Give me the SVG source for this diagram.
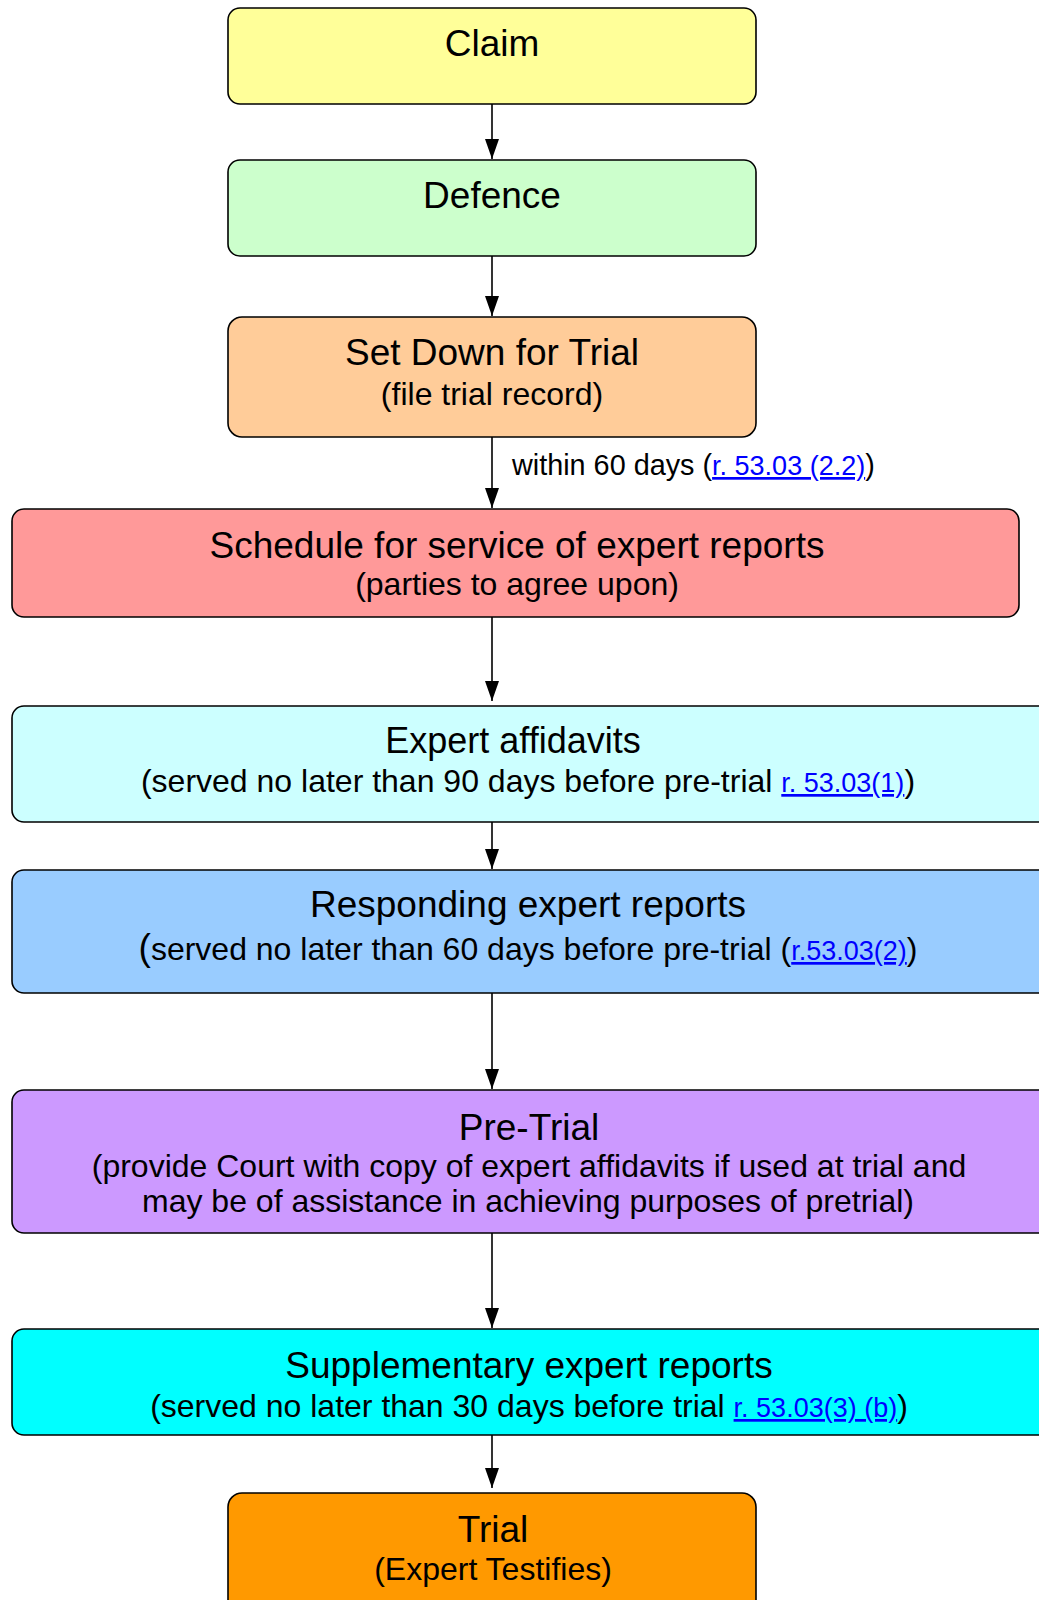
<svg xmlns="http://www.w3.org/2000/svg" width="1039" height="1600" viewBox="0 0 1039 1600">
<style>
.box{stroke:#000;stroke-width:1.6}
.t{font-family:"Liberation Sans",Arial,sans-serif;fill:#000;text-anchor:middle}
.h{font-size:37px}
.s{font-size:32px}
.lk{fill:#0000ff;text-decoration:underline;font-size:27px}
.c{stroke:#000;stroke-width:1.6;fill:none}
</style>
<defs>
<marker id="ah" viewBox="0 0 20 14" refX="20" refY="7" markerWidth="20" markerHeight="14" markerUnits="userSpaceOnUse" orient="auto">
<path d="M0,0 L20,7 L0,14 Z" fill="#000"/>
</marker>
</defs>
<g id="connectors">
<line class="c" x1="492" y1="104" x2="492" y2="159" marker-end="url(#ah)"/>
<line class="c" x1="492" y1="256" x2="492" y2="316" marker-end="url(#ah)"/>
<line class="c" x1="492" y1="437" x2="492" y2="508" marker-end="url(#ah)"/>
<line class="c" x1="492" y1="617" x2="492" y2="701" marker-end="url(#ah)"/>
<line class="c" x1="492" y1="822" x2="492" y2="869" marker-end="url(#ah)"/>
<line class="c" x1="492" y1="993" x2="492" y2="1089" marker-end="url(#ah)"/>
<line class="c" x1="492" y1="1233" x2="492" y2="1328" marker-end="url(#ah)"/>
<line class="c" x1="492" y1="1426" x2="492" y2="1488" marker-end="url(#ah)"/>
<text class="t" x="512" y="475" style="font-size:28.8px;text-anchor:start">within 60 days (<tspan class="lk">r. 53.03 (2.2)</tspan>)</text>
</g>
<g id="claim">
<rect class="box" x="228" y="8" width="528" height="96" rx="12" fill="#ffff99"/>
<text class="t h" x="492" y="56">Claim</text>
</g>
<g id="defence">
<rect class="box" x="228" y="160" width="528" height="96" rx="12" fill="#ccffcc"/>
<text class="t h" x="492" y="208">Defence</text>
</g>
<g id="setdown">
<rect class="box" x="228" y="317" width="528" height="120" rx="14" fill="#ffcc99"/>
<text class="t h" x="492" y="365">Set Down for Trial</text>
<text class="t s" x="492" y="405">(file trial record)</text>
</g>
<g id="schedule">
<rect class="box" x="12" y="509" width="1007" height="108" rx="12" fill="#ff9999"/>
<text class="t h" x="517" y="558">Schedule for service of expert reports</text>
<text class="t s" x="517" y="595">(parties to agree upon)</text>
</g>
<g id="affidavits">
<rect class="box" x="12" y="706" width="1040" height="116" rx="12" fill="#ccffff"/>
<text class="t" x="513" y="753" style="font-size:36px">Expert affidavits</text>
<text class="t s" x="528" y="792">(served no later than 90 days before pre-trial <tspan class="lk">r. 53.03(1)</tspan>)</text>
</g>
<g id="responding">
<rect class="box" x="12" y="870" width="1040" height="123" rx="12" fill="#99ccff"/>
<text class="t h" x="528" y="917">Responding expert reports</text>
<text class="t s" x="528" y="960"><tspan style="font-size:37px">(</tspan>served no later than 60 days before pre-trial (<tspan class="lk">r.53.03(2)</tspan>)</text>
</g>
<g id="pretrial">
<rect class="box" x="12" y="1090" width="1040" height="143" rx="12" fill="#cc99ff"/>
<text class="t h" x="529" y="1140">Pre-Trial</text>
<text class="t s" x="529" y="1177">(provide Court with copy of expert affidavits if used at trial and</text>
<text class="t s" x="528" y="1212">may be of assistance in achieving purposes of pretrial)</text>
</g>
<g id="supplementary">
<rect class="box" x="12" y="1329" width="1040" height="106" rx="12" fill="#00ffff"/>
<text class="t h" x="529" y="1378">Supplementary expert reports</text>
<text class="t s" x="529" y="1417">(served no later than 30 days before trial <tspan class="lk">r. 53.03(3) (b)</tspan>)</text>
</g>
<g id="trial">
<rect class="box" x="228" y="1493" width="528" height="130" rx="14" fill="#ff9900"/>
<text class="t h" x="493" y="1542">Trial</text>
<text class="t s" x="493" y="1580">(Expert Testifies)</text>
</g>
</svg>
